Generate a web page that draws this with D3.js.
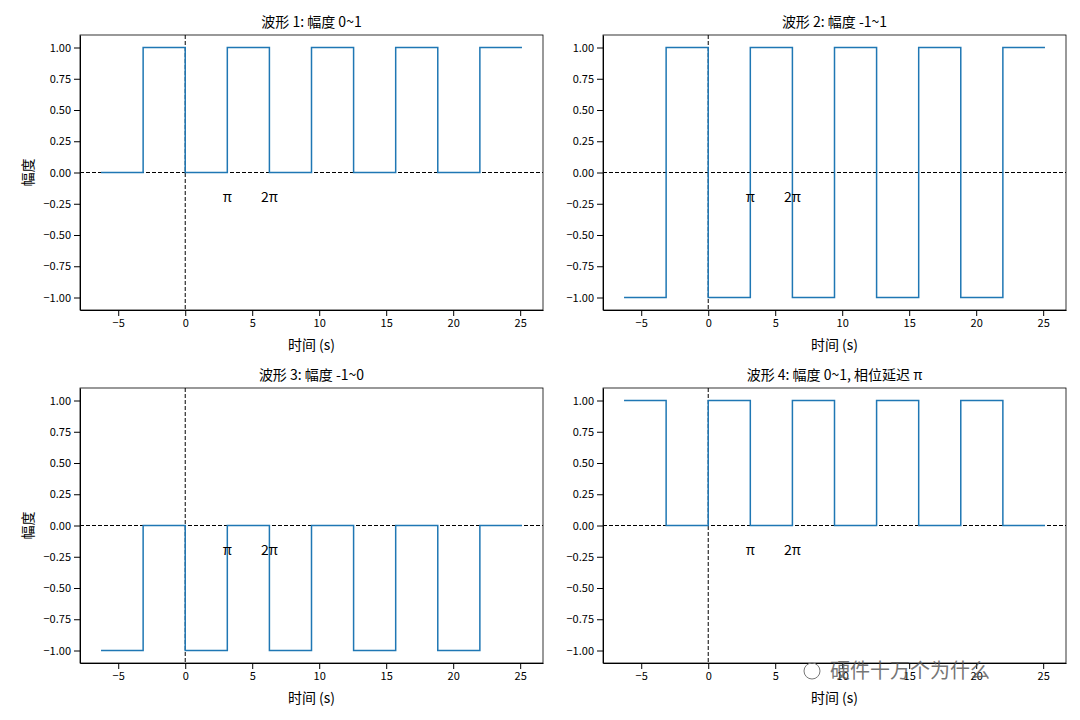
<!DOCTYPE html><html><head><meta charset="utf-8"><script src="https://cdn.jsdelivr.net/npm/d3@7"></script>
<style>body{margin:0;background:#fff}text{font-family:"Noto Sans CJK SC","DejaVu Sans",sans-serif}</style></head><body><svg id="c" width="1080" height="720"></svg><script>
const edgesPi=[-2,-1,0,1,2,3,4,5,6,7,8];
const titles=["波形 1: 幅度 0~1","波形 2: 幅度 -1~1","波形 3: 幅度 -1~0","波形 4: 幅度 0~1, 相位延迟 π"];
const levels=[[0,1,0,1,0,1,0,1,0,1],[-1,1,-1,1,-1,1,-1,1,-1,1],[-1,0,-1,0,-1,0,-1,0,-1,0],[1,0,1,0,1,0,1,0,1,0]];
const xTicks=[-5,0,5,10,15,20,25];
const yTicks=[-1,-0.75,-0.5,-0.25,0,0.25,0.5,0.75,1];
const svg=d3.select("#c");
const boxes=[[80,35],[603,35],[80,388],[603,388]];
const W=463,H=275;
boxes.forEach(([L,T],i)=>{
 const x=d3.scaleLinear().domain([-2*Math.PI-1.57,8*Math.PI+1.57]).range([L,L+W]);
 const y=d3.scaleLinear().domain([-1.1,1.1]).range([T+H,T]);
 const g=svg.append("g");
 g.append("g").attr("transform",`translate(0,${T+H})`).call(d3.axisBottom(x).tickValues(xTicks).tickFormat(d=>d<0?"−"+(-d):d).tickSizeOuter(0)).call(a=>a.selectAll("text").attr("font-size",11).attr("font-family","DejaVu Sans"));
 g.append("g").attr("transform",`translate(${L},0)`).call(d3.axisLeft(y).tickValues(yTicks).tickFormat(d=>(d<0?"−":"")+Math.abs(d).toFixed(2)).tickSizeOuter(0)).call(a=>a.selectAll("text").attr("font-size",11).attr("font-family","DejaVu Sans"));
 g.append("rect").attr("x",L).attr("y",T).attr("width",W).attr("height",H).attr("fill","none").attr("stroke","#000").attr("stroke-width",0.8);
 g.append("line").attr("x1",L).attr("x2",L+W).attr("y1",y(0)).attr("y2",y(0)).attr("stroke","#000").attr("stroke-dasharray","4,2");
 g.append("line").attr("x1",x(0)).attr("x2",x(0)).attr("y1",T).attr("y2",T+H).attr("stroke","#000").attr("stroke-dasharray","4,2");
 const pts=[];levels[i].forEach((v,k)=>{pts.push([edgesPi[k]*Math.PI,v]);pts.push([edgesPi[k+1]*Math.PI,v]);});
 g.append("path").attr("d",d3.line().x(d=>x(d[0])).y(d=>y(d[1]))(pts)).attr("fill","none").attr("stroke","#1f77b4").attr("stroke-width",1.5);
 g.append("text").attr("x",x(Math.PI)).attr("y",y(-0.2)).attr("text-anchor","middle").attr("dy","0.35em").attr("font-size",14).text("π");
 g.append("text").attr("x",x(2*Math.PI)).attr("y",y(-0.2)).attr("text-anchor","middle").attr("dy","0.35em").attr("font-size",14).text("2π");
 g.append("text").attr("x",L+W/2).attr("y",T-8).attr("text-anchor","middle").attr("font-size",14).text(titles[i]);
 g.append("text").attr("x",L+W/2).attr("y",T+H+40).attr("text-anchor","middle").attr("font-size",14).text("时间 (s)");
 if(i%2==0) g.append("text").attr("transform",`translate(${L-47},${T+H/2}) rotate(-90)`).attr("text-anchor","middle").attr("font-size",14).text("幅度");
});
svg.append("text").attr("x",830).attr("y",678).attr("font-size",20).attr("fill","#555").attr("opacity",0.8).text("硬件十万个为什么");
svg.append("circle").attr("cx",812).attr("cy",671).attr("r",8).attr("fill","none").attr("stroke","#777");
</script></body></html>
